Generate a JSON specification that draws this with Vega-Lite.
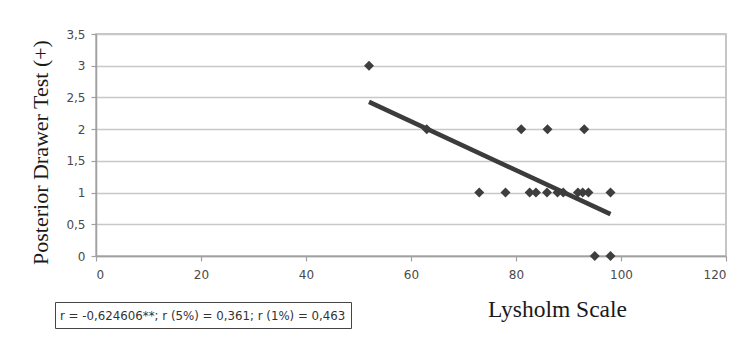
{
  "$schema": "https://vega.github.io/schema/vega-lite/v6.json",
  "width": 630,
  "height": 222,
  "autosize": {"type": "none"},
  "padding": {"left": 96, "top": 34, "right": 27, "bottom": 87},
  "background": "#ffffff",
  "config": {
    "view": {"stroke": "#b4b4b4", "strokeWidth": 1.5},
    "axis": {
      "labelFont": "DejaVu Sans",
      "labelFontSize": 12,
      "labelColor": "#4a4a4a",
      "domainColor": "#a0a0a0",
      "domainWidth": 1.5,
      "tickColor": "#a0a0a0",
      "tickWidth": 1.2,
      "tickSize": 5,
      "titleFont": "Liberation Serif",
      "titleFontWeight": "normal",
      "titleColor": "#1a1a1a"
    },
    "legend": {
      "labelFont": "DejaVu Sans",
      "labelFontSize": 11.8,
      "labelColor": "#333333",
      "labelLimit": 600,
      "strokeColor": "#444444",
      "padding": 5
    }
  },
  "encoding": {
    "x": {
      "field": "lysholm",
      "type": "quantitative",
      "scale": {"domain": [0, 120], "nice": false},
      "axis": {
        "values": [0, 20, 40, 60, 80, 100, 120],
        "grid": false,
        "labelPadding": 8,
        "title": "Lysholm Scale",
        "titleFontSize": 23.5,
        "titleX": 461,
        "titleY": 53,
        "titleBaseline": "middle",
        "titleAlign": "center"
      }
    },
    "y": {
      "field": "drawer",
      "type": "quantitative",
      "scale": {"domain": [0, 3.5], "nice": false},
      "axis": {
        "values": [0, 0.5, 1, 1.5, 2, 2.5, 3, 3.5],
        "grid": true,
        "gridColor": "#c8c8c8",
        "gridWidth": 1.5,
        "labelPadding": 6,
        "labelOverlap": false,
        "labelExpr": "replace(format(datum.value, '~g'), '.', ',')",
        "title": "Posterior Drawer Test (+)",
        "titleFontSize": 22,
        "titleX": -56,
        "titleY": 118,
        "titleAngle": -90,
        "titleBaseline": "middle",
        "titleAlign": "center"
      }
    }
  },
  "layer": [
    {
      "data": {
        "values": [
          {"lysholm": 52, "drawer": 3},
          {"lysholm": 63, "drawer": 2},
          {"lysholm": 81, "drawer": 2},
          {"lysholm": 86, "drawer": 2},
          {"lysholm": 93, "drawer": 2},
          {"lysholm": 73, "drawer": 1},
          {"lysholm": 78, "drawer": 1},
          {"lysholm": 82.6, "drawer": 1},
          {"lysholm": 83.8, "drawer": 1},
          {"lysholm": 85.9, "drawer": 1},
          {"lysholm": 87.9, "drawer": 1},
          {"lysholm": 89, "drawer": 1},
          {"lysholm": 91.8, "drawer": 1},
          {"lysholm": 92.7, "drawer": 1},
          {"lysholm": 93.8, "drawer": 1},
          {"lysholm": 98, "drawer": 1},
          {"lysholm": 95, "drawer": 0},
          {"lysholm": 98, "drawer": 0}
        ]
      },
      "mark": {"type": "point", "shape": "diamond", "filled": true, "size": 100, "color": "#3e3e3e", "opacity": 1}
    },
    {
      "data": {
        "values": [
          {"lysholm": 52, "drawer": 2.43, "note": "r = -0,624606**; r (5%) = 0,361; r (1%) = 0,463"},
          {"lysholm": 98, "drawer": 0.66, "note": "r = -0,624606**; r (5%) = 0,361; r (1%) = 0,463"}
        ]
      },
      "mark": {"type": "line", "strokeWidth": 4.5},
      "encoding": {
        "color": {
          "field": "note",
          "type": "nominal",
          "scale": {"range": ["#3c3c3c"]},
          "legend": {
            "title": null,
            "orient": "none",
            "legendX": -41,
            "legendY": 268,
            "symbolSize": 324,
            "symbolStrokeWidth": 0,
            "symbolOpacity": 0,
            "labelOffset": -18
          }
        }
      }
    }
  ]
}
